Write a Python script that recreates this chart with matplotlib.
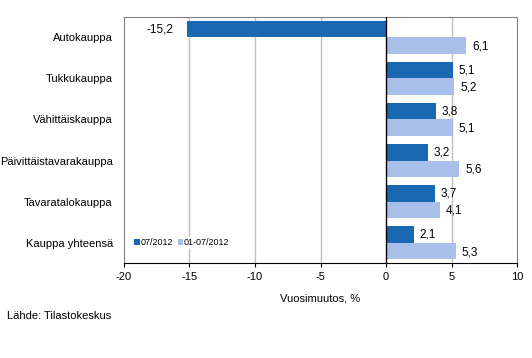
import numpy as np
import matplotlib
matplotlib.use('Agg')
import matplotlib.pyplot as plt

categories = ['Autokauppa', 'Tukkukauppa', 'Vähittäiskauppa',
              'Päivittäistavarakauppa', 'Tavaratalokauppa', 'Kauppa yhteensä']
month = [-15.2, 5.1, 3.8, 3.2, 3.7, 2.1]
ytd = [6.1, 5.2, 5.1, 5.6, 4.1, 5.3]
series_names = ['07/2012', '01-07/2012']

c_dark = '#1a68b2'
c_light = '#a8bfea'

plt.rcParams['font.family'] = ['Liberation Sans', 'DejaVu Sans']
fig = plt.figure(figsize=(5.32, 3.58), dpi=100)
ax = fig.add_axes([0.233, 0.265, 0.739, 0.688])

y = np.arange(len(categories))
h = 0.4
ax.barh(y - h/2, month, height=h, color=c_dark, label=series_names[0])
ax.barh(y + h/2, ytd, height=h, color=c_light, label=series_names[1])

def fmt(v):
    return ('%.1f' % v).replace('.', ',')

for yi, v in zip(y, month):
    if v < 0:
        ax.text(-16.2, yi - h/2, fmt(v), ha='right', va='center', fontsize=8.5)
    else:
        ax.text(v + 0.45, yi - h/2, fmt(v), ha='left', va='center', fontsize=8.5)
for yi, v in zip(y, ytd):
    ax.text(v + 0.45, yi + h/2 + 0.03, fmt(v), ha='left', va='center', fontsize=8.5)

ax.set_xlim(-20, 10)
ax.set_ylim(len(categories) - 0.5, -0.5)
ax.set_xticks([-20, -15, -10, -5, 0, 5, 10])
ax.set_xticklabels(['-20', '-15', '-10', '-5', '0', '5', '10'], fontsize=8)
ax.set_yticks(y)
ax.set_yticklabels(categories, fontsize=8)
ax.tick_params(axis='y', length=0, pad=8)
ax.tick_params(axis='x', length=3, width=0.8)
ax.set_axisbelow(True)
for xv in [-15, -10, -5, 5]:
    ax.axvline(xv, color='#c0c0c0', lw=1, zorder=0)
ax.axvline(0, color='black', lw=1, zorder=3)

for s in ['top', 'right', 'left']:
    ax.spines[s].set_color('#808080')
    ax.spines[s].set_linestyle((0, (1, 1)))
    ax.spines[s].set_linewidth(0.8)
ax.spines['bottom'].set_color('black')

ax.set_xlabel('Vuosimuutos, %', fontsize=8, labelpad=8)

ax.legend(loc='lower left', bbox_to_anchor=(0.01, 0.04), ncol=2, fontsize=6.5,
          frameon=True, framealpha=1, edgecolor='none', handlelength=0.6,
          handleheight=0.6, handletextpad=0.1, columnspacing=0.5,
          borderpad=0.2)

fig.text(0.013, 0.117, 'Lähde: Tilastokeskus', fontsize=8, ha='left', va='center')

fig.savefig('out.png', dpi=100)
